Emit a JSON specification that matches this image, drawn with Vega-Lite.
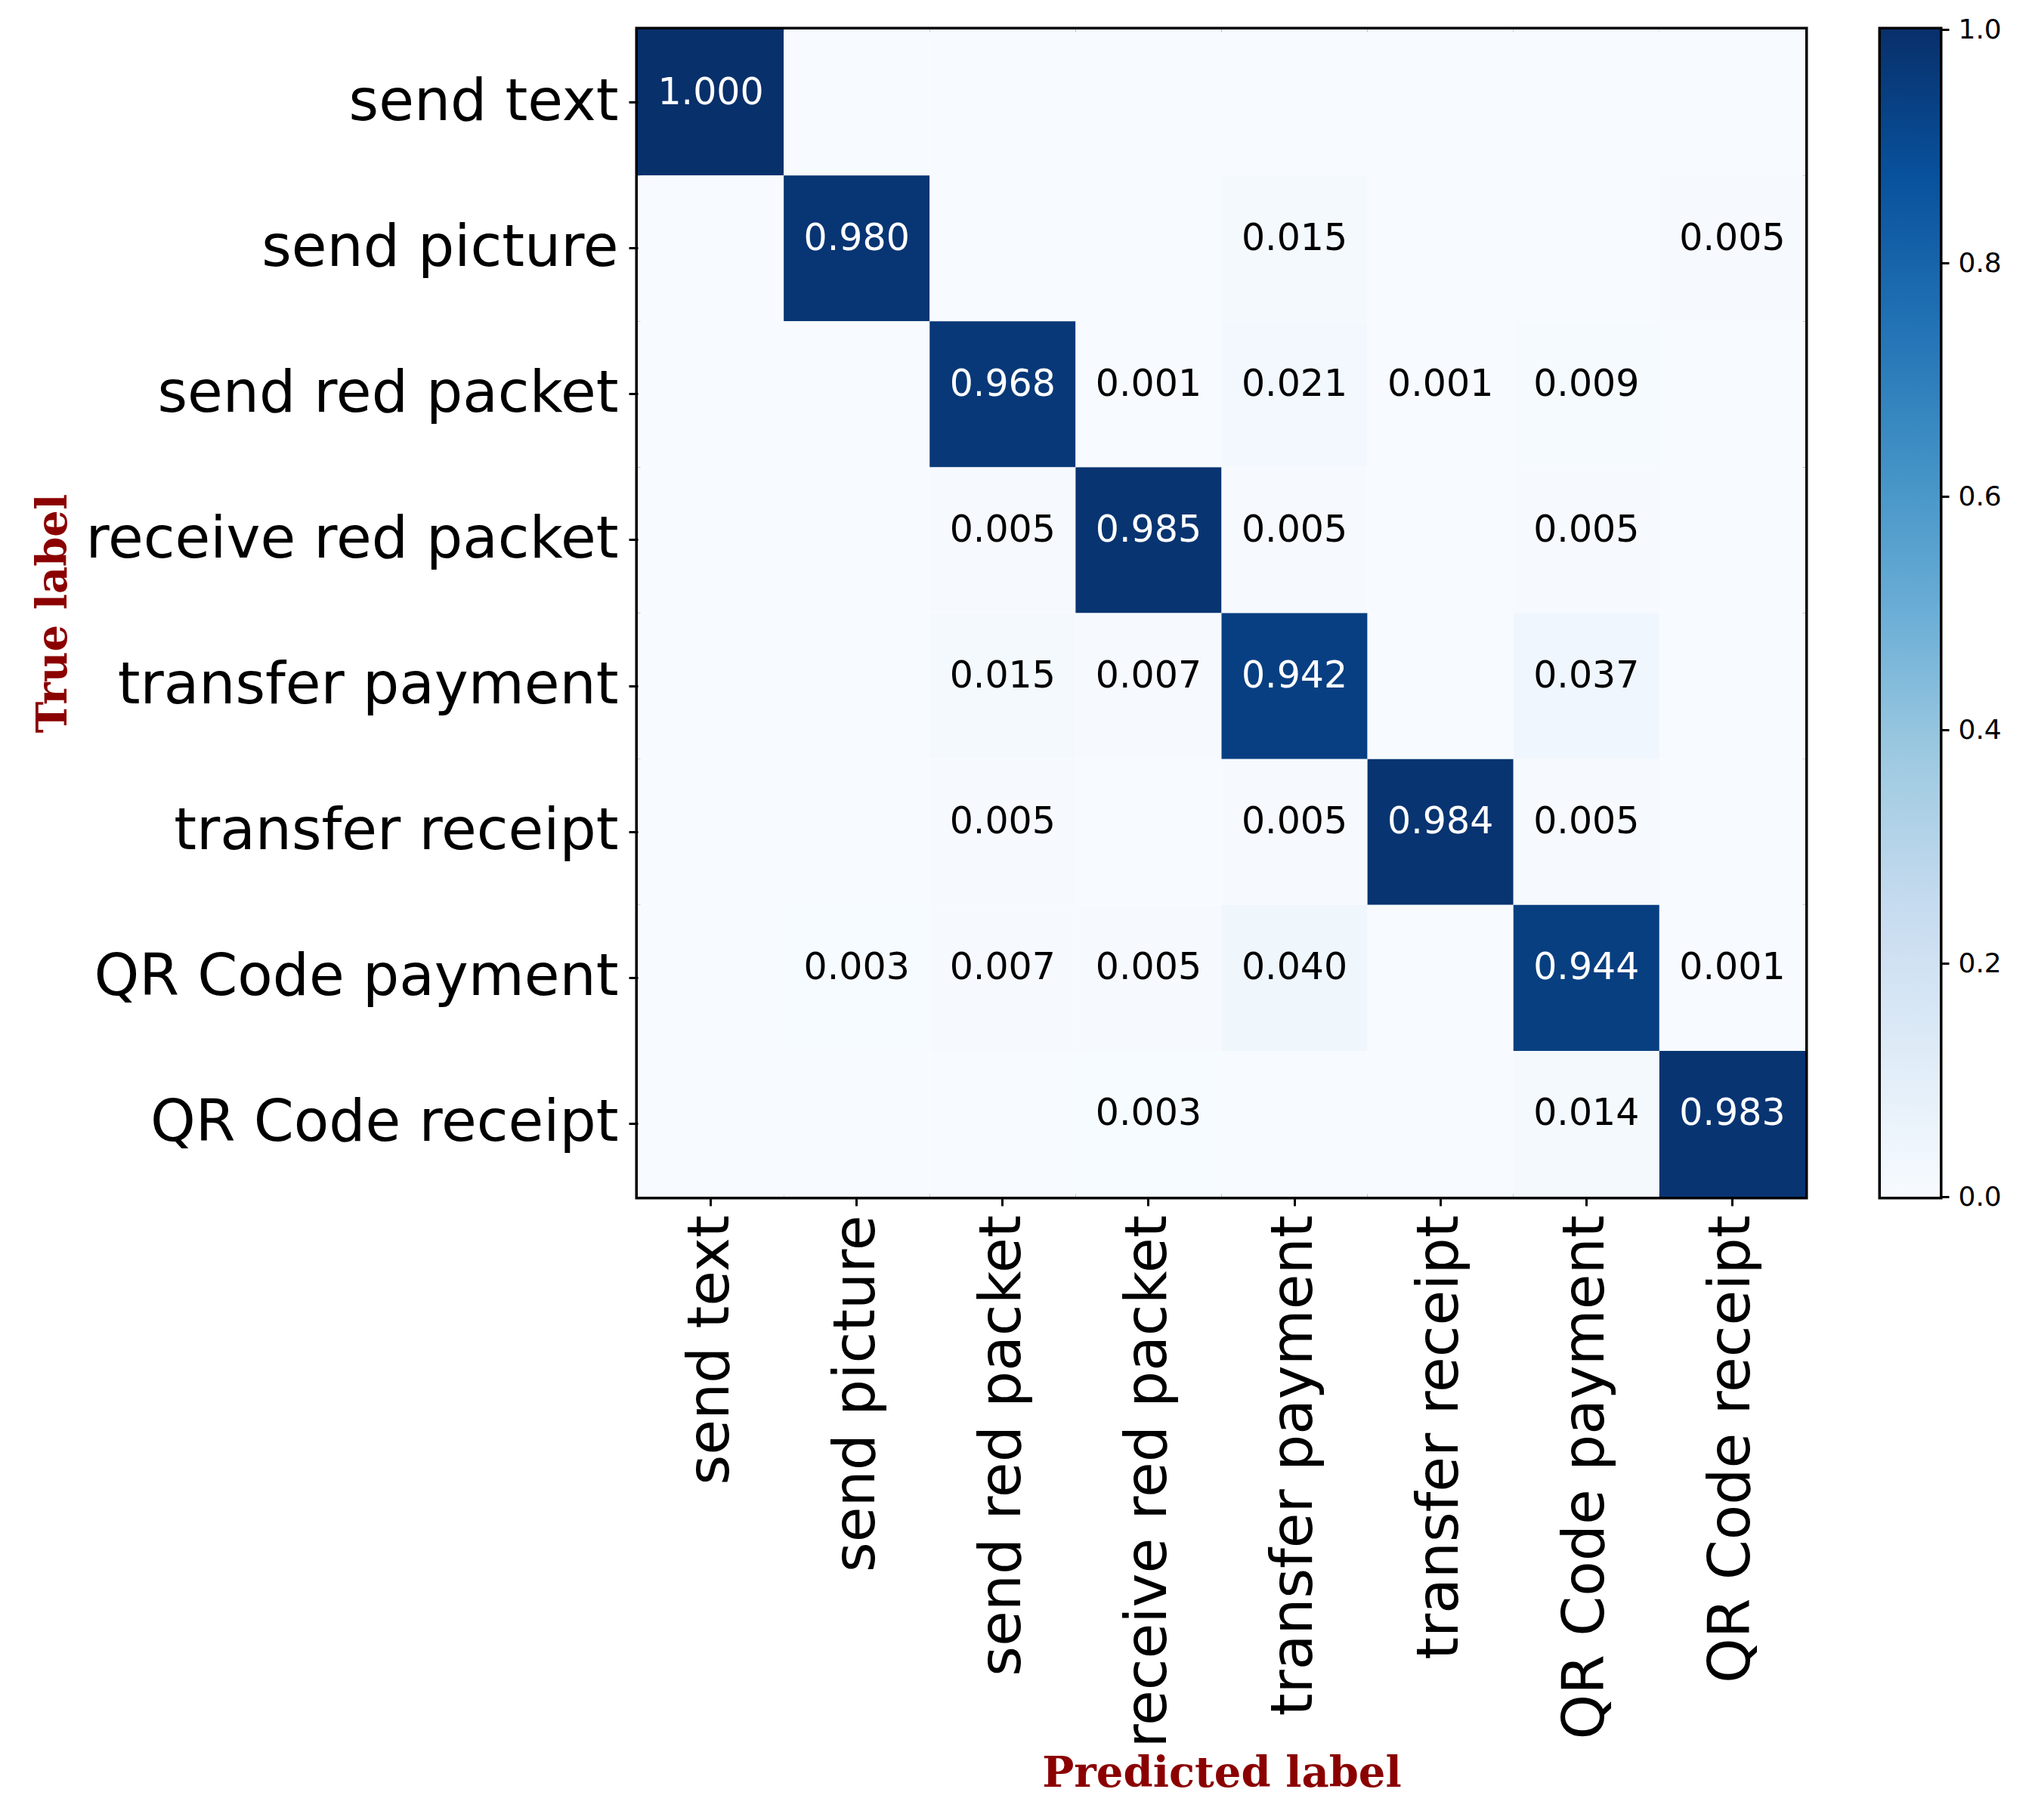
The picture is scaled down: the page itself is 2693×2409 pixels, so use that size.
{
  "$schema": "https://vega.github.io/schema/vega-lite/v6.json",
  "padding": {"left": 38, "top": 17, "right": 10, "bottom": 10},
  "background": "white",
  "bounds": "flush",
  "spacing": 100,
  "config": {
    "font": "DejaVu Sans",
    "view": {"stroke": "black", "strokeWidth": 7},
    "axis": {"grid": false, "domain": false, "tickColor": "black", "tickWidth": 3, "tickSize": 12, "labelColor": "black", "labelFont": "DejaVu Sans"}
  },
  "datasets": {
    "cm": [
      {"t": "send text", "p": "send text", "v": 1.0},
      {"t": "send text", "p": "send picture", "v": 0},
      {"t": "send text", "p": "send red packet", "v": 0},
      {"t": "send text", "p": "receive red packet", "v": 0},
      {"t": "send text", "p": "transfer payment", "v": 0},
      {"t": "send text", "p": "transfer receipt", "v": 0},
      {"t": "send text", "p": "QR Code payment", "v": 0},
      {"t": "send text", "p": "QR Code receipt", "v": 0},
      {"t": "send picture", "p": "send text", "v": 0},
      {"t": "send picture", "p": "send picture", "v": 0.980},
      {"t": "send picture", "p": "send red packet", "v": 0},
      {"t": "send picture", "p": "receive red packet", "v": 0},
      {"t": "send picture", "p": "transfer payment", "v": 0.015},
      {"t": "send picture", "p": "transfer receipt", "v": 0},
      {"t": "send picture", "p": "QR Code payment", "v": 0},
      {"t": "send picture", "p": "QR Code receipt", "v": 0.005},
      {"t": "send red packet", "p": "send text", "v": 0},
      {"t": "send red packet", "p": "send picture", "v": 0},
      {"t": "send red packet", "p": "send red packet", "v": 0.968},
      {"t": "send red packet", "p": "receive red packet", "v": 0.001},
      {"t": "send red packet", "p": "transfer payment", "v": 0.021},
      {"t": "send red packet", "p": "transfer receipt", "v": 0.001},
      {"t": "send red packet", "p": "QR Code payment", "v": 0.009},
      {"t": "send red packet", "p": "QR Code receipt", "v": 0},
      {"t": "receive red packet", "p": "send text", "v": 0},
      {"t": "receive red packet", "p": "send picture", "v": 0},
      {"t": "receive red packet", "p": "send red packet", "v": 0.005},
      {"t": "receive red packet", "p": "receive red packet", "v": 0.985},
      {"t": "receive red packet", "p": "transfer payment", "v": 0.005},
      {"t": "receive red packet", "p": "transfer receipt", "v": 0},
      {"t": "receive red packet", "p": "QR Code payment", "v": 0.005},
      {"t": "receive red packet", "p": "QR Code receipt", "v": 0},
      {"t": "transfer payment", "p": "send text", "v": 0},
      {"t": "transfer payment", "p": "send picture", "v": 0},
      {"t": "transfer payment", "p": "send red packet", "v": 0.015},
      {"t": "transfer payment", "p": "receive red packet", "v": 0.007},
      {"t": "transfer payment", "p": "transfer payment", "v": 0.942},
      {"t": "transfer payment", "p": "transfer receipt", "v": 0},
      {"t": "transfer payment", "p": "QR Code payment", "v": 0.037},
      {"t": "transfer payment", "p": "QR Code receipt", "v": 0},
      {"t": "transfer receipt", "p": "send text", "v": 0},
      {"t": "transfer receipt", "p": "send picture", "v": 0},
      {"t": "transfer receipt", "p": "send red packet", "v": 0.005},
      {"t": "transfer receipt", "p": "receive red packet", "v": 0},
      {"t": "transfer receipt", "p": "transfer payment", "v": 0.005},
      {"t": "transfer receipt", "p": "transfer receipt", "v": 0.984},
      {"t": "transfer receipt", "p": "QR Code payment", "v": 0.005},
      {"t": "transfer receipt", "p": "QR Code receipt", "v": 0},
      {"t": "QR Code payment", "p": "send text", "v": 0},
      {"t": "QR Code payment", "p": "send picture", "v": 0.003},
      {"t": "QR Code payment", "p": "send red packet", "v": 0.007},
      {"t": "QR Code payment", "p": "receive red packet", "v": 0.005},
      {"t": "QR Code payment", "p": "transfer payment", "v": 0.040},
      {"t": "QR Code payment", "p": "transfer receipt", "v": 0},
      {"t": "QR Code payment", "p": "QR Code payment", "v": 0.944},
      {"t": "QR Code payment", "p": "QR Code receipt", "v": 0.001},
      {"t": "QR Code receipt", "p": "send text", "v": 0},
      {"t": "QR Code receipt", "p": "send picture", "v": 0},
      {"t": "QR Code receipt", "p": "send red packet", "v": 0},
      {"t": "QR Code receipt", "p": "receive red packet", "v": 0.003},
      {"t": "QR Code receipt", "p": "transfer payment", "v": 0},
      {"t": "QR Code receipt", "p": "transfer receipt", "v": 0},
      {"t": "QR Code receipt", "p": "QR Code payment", "v": 0.014},
      {"t": "QR Code receipt", "p": "QR Code receipt", "v": 0.983}
    ],
    "cb": [{"lo": 0, "hi": 1}]
  },
  "hconcat": [
    {
      "width": 1545,
      "height": 1545,
      "data": {"name": "cm"},
      "encoding": {
        "x": {
          "field": "p", "type": "nominal",
          "sort": ["send text", "send picture", "send red packet", "receive red packet", "transfer payment", "transfer receipt", "QR Code payment", "QR Code receipt"],
          "scale": {"paddingInner": 0, "paddingOuter": 0},
          "axis": {"title": "Predicted label", "labelAngle": -90, "labelAlign": "right", "labelBaseline": "middle", "labelFontSize": 76, "labelPadding": 12, "labelLimit": 2000,
                   "titleFont": "DejaVu Serif", "titleFontWeight": "bold", "titleFontSize": 56, "titleColor": "#8b0000", "titlePadding": 536}
        },
        "y": {
          "field": "t", "type": "nominal",
          "sort": ["send text", "send picture", "send red packet", "receive red packet", "transfer payment", "transfer receipt", "QR Code payment", "QR Code receipt"],
          "scale": {"paddingInner": 0, "paddingOuter": 0},
          "axis": {"title": "True label", "labelFontSize": 76, "labelPadding": 14, "labelLimit": 2000,
                   "titleFont": "DejaVu Serif", "titleFontWeight": "bold", "titleFontSize": 56, "titleColor": "#8b0000", "titlePadding": 545}
        }
      },
      "layer": [
        {
          "mark": {"type": "rect", "strokeWidth": 0},
          "encoding": {
            "color": {
              "field": "v", "type": "quantitative",
              "scale": {"domain": [0, 1], "range": ["#f7fbff", "#deebf7", "#c6dbef", "#9ecae1", "#6baed6", "#4292c6", "#2171b5", "#08519c", "#08306b"], "interpolate": "rgb"},
              "legend": null
            }
          }
        },
        {
          "transform": [{"filter": "datum.v > 0"}],
          "mark": {"type": "text", "fontSize": 49, "font": "DejaVu Sans", "align": "center", "baseline": "middle", "dy": -13},
          "encoding": {
            "text": {"field": "v", "type": "quantitative", "format": ".3f"},
            "color": {"condition": {"test": "datum.v > 0.5", "value": "white"}, "value": "black"}
          }
        }
      ]
    },
    {
      "width": 78,
      "height": 1545,
      "data": {"name": "cb"},
      "mark": {
        "type": "rect",
        "fill": {
          "gradient": "linear", "x1": 0, "y1": 1, "x2": 0, "y2": 0,
          "stops": [
            {"offset": 0, "color": "#f7fbff"},
            {"offset": 0.125, "color": "#deebf7"},
            {"offset": 0.25, "color": "#c6dbef"},
            {"offset": 0.375, "color": "#9ecae1"},
            {"offset": 0.5, "color": "#6baed6"},
            {"offset": 0.625, "color": "#4292c6"},
            {"offset": 0.75, "color": "#2171b5"},
            {"offset": 0.875, "color": "#08519c"},
            {"offset": 1, "color": "#08306b"}
          ]
        }
      },
      "encoding": {
        "y": {
          "field": "lo", "type": "quantitative",
          "scale": {"domain": [0, 1], "nice": false, "zero": false},
          "axis": {"orient": "right", "title": null, "values": [0, 0.2, 0.4, 0.6, 0.8, 1.0], "format": ".1f", "labelFontSize": 36, "labelPadding": 12, "labelFlush": false, "labelBaseline": "middle"}
        },
        "y2": {"field": "hi"}
      }
    }
  ]
}
